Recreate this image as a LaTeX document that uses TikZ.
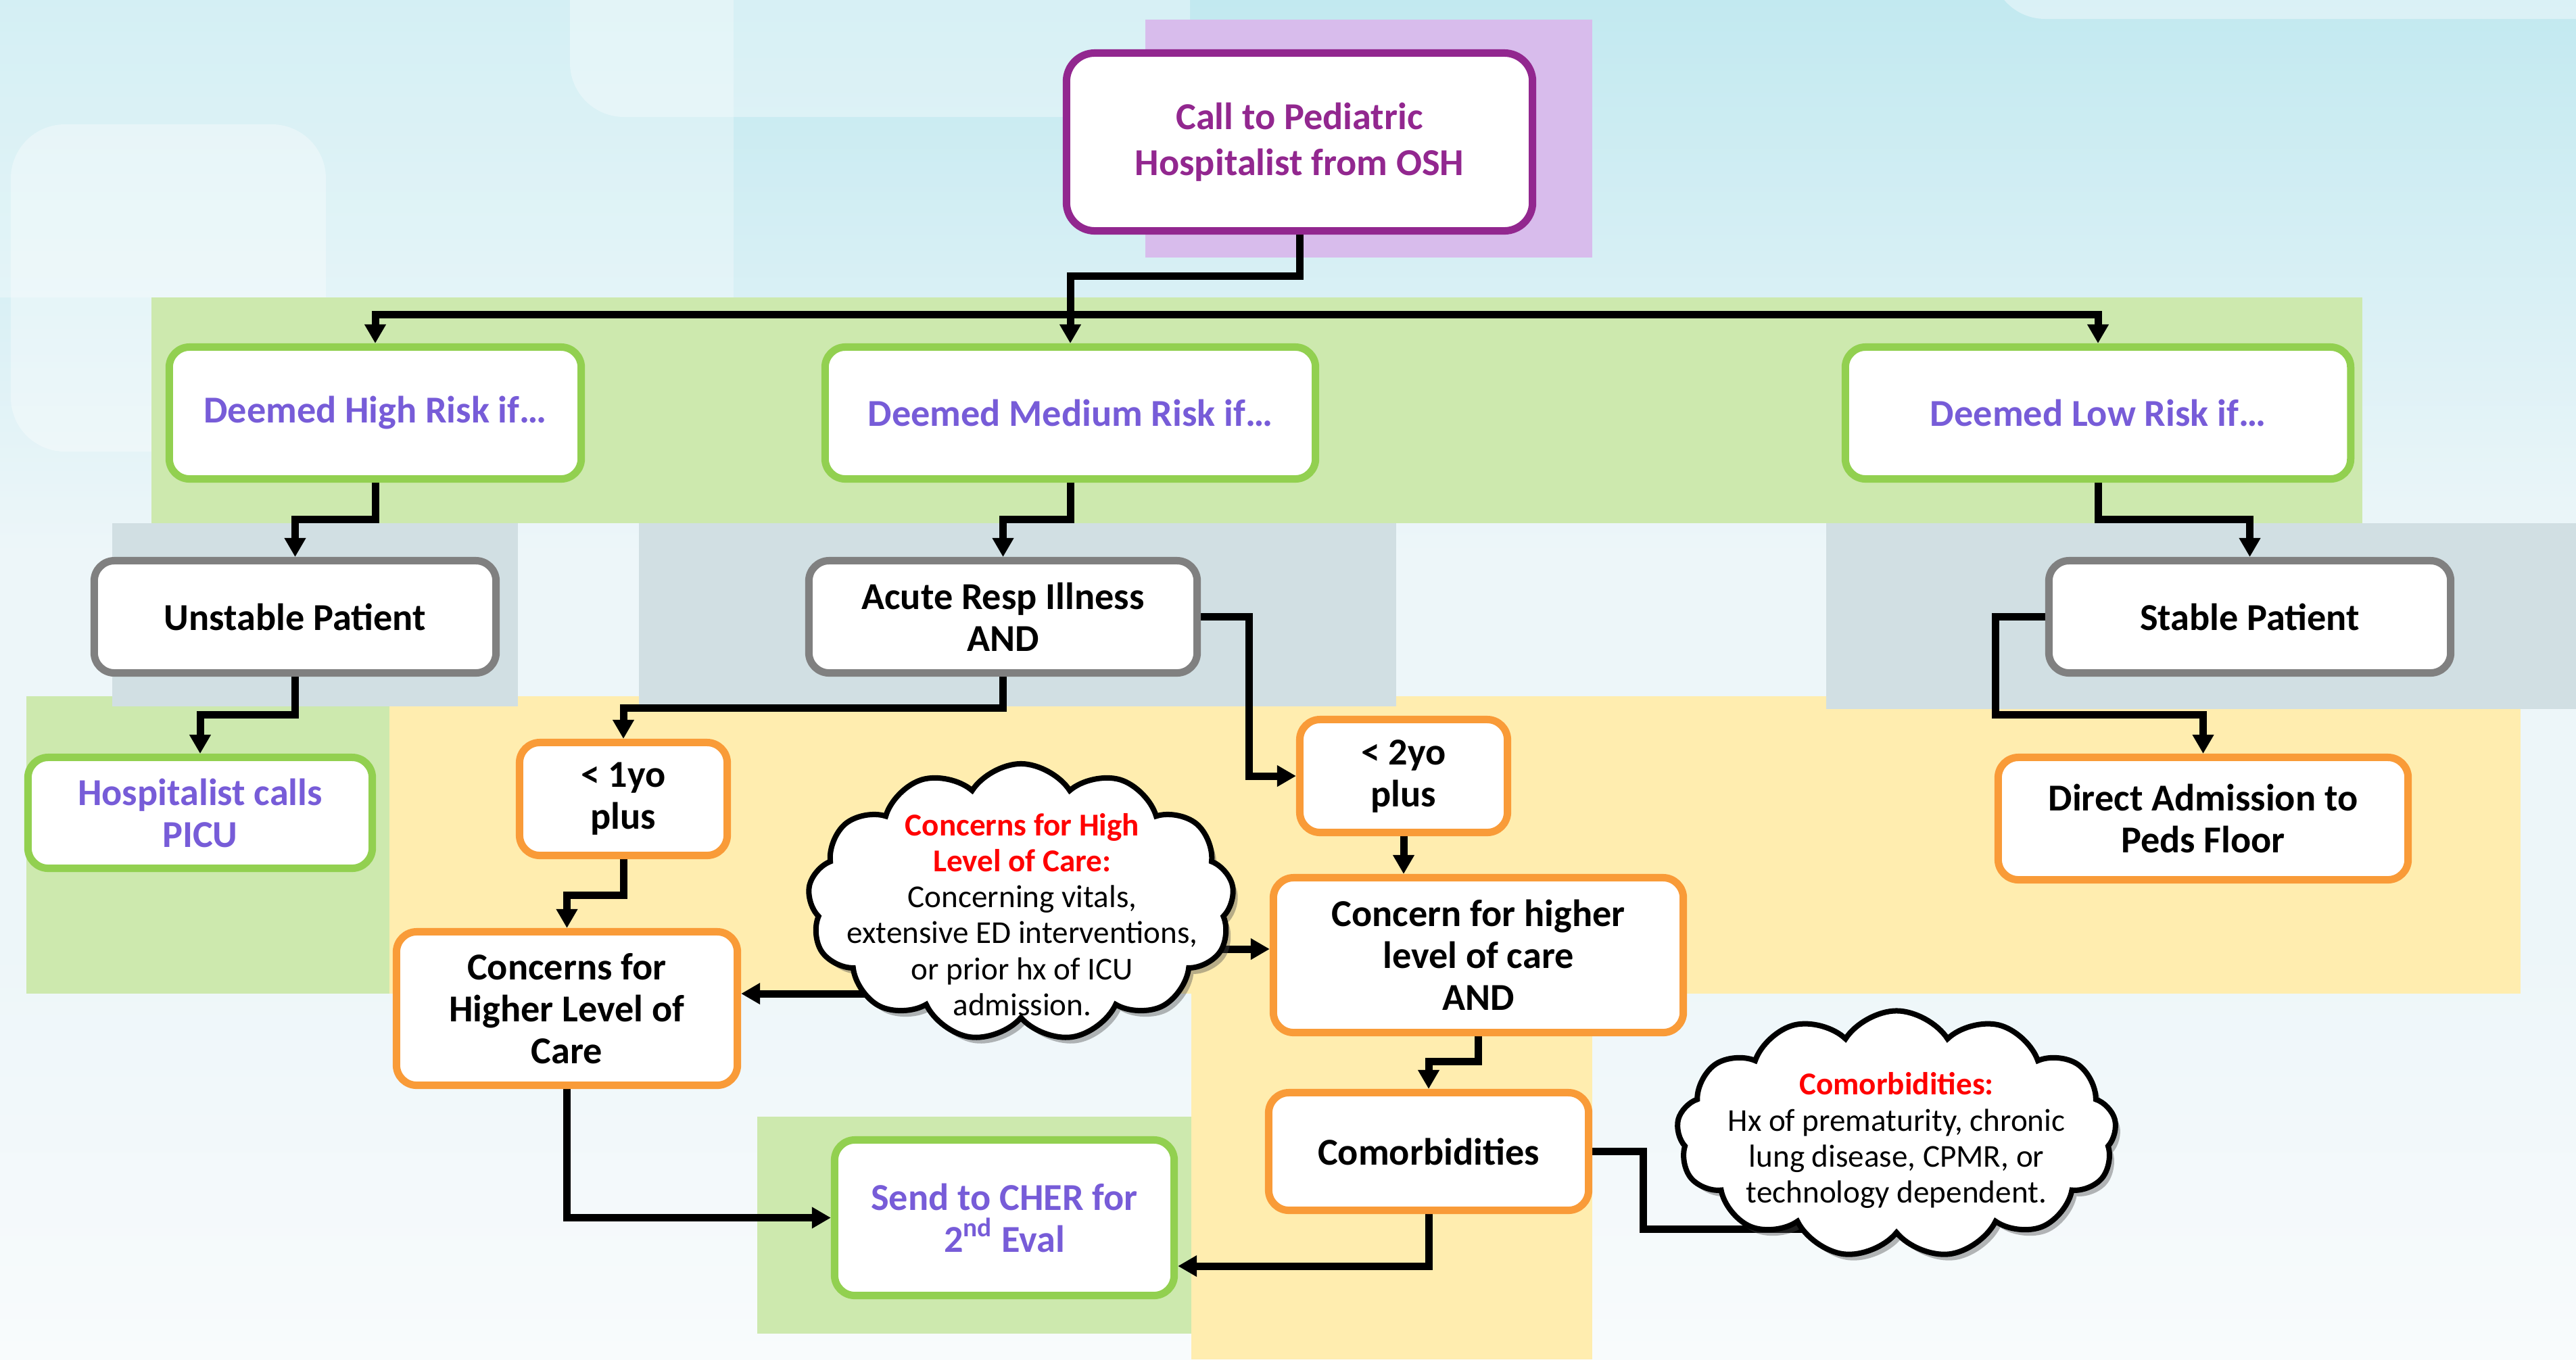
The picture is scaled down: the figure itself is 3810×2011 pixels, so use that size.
\documentclass[tikz,border=0pt]{standalone}
\usepackage{fontspec}
\setmainfont{Carlito}
\usetikzlibrary{arrows.meta,shapes.symbols,shadows}
\definecolor{cpurple}{HTML}{92278F}
\definecolor{bpurple}{HTML}{D8BCEC}
\definecolor{bgreen}{HTML}{CDE9AE}
\definecolor{lgreen}{HTML}{92D050}
\definecolor{bgray}{HTML}{D1DFE3}
\definecolor{byellow}{HTML}{FFEDAF}
\definecolor{corange}{HTML}{F99B38}
\definecolor{cgray}{HTML}{808080}
\definecolor{ptext}{HTML}{775CD8}
\definecolor{cred}{HTML}{FF0000}
\definecolor{bgtop}{HTML}{C2E9F0}
\definecolor{bglight}{HTML}{EDF6F9}
\definecolor{bgbot}{HTML}{F8FBFC}
\newcommand\redtitle[1]{\textcolor{cred}{\bfseries #1}}
\pgfdeclarelayer{back}
\pgfdeclarelayer{lines}
\pgfsetlayers{back,lines,main}
\begin{document}
\begin{tikzpicture}[x=0.01cm,y=-0.01cm,
  box/.style={draw, line width=0.11cm, fill=white, rounded corners=0.3cm, align=center,
    font=\bfseries\fontsize{16}{17.6}\selectfont, inner sep=0pt},
  gbox/.style={box, draw=lgreen, text=ptext},
  obox/.style={box, draw=corange, text=black},
  graybox/.style={box, draw=cgray, text=black},
  conn/.style={line width=0.11cm, black},
  arr/.style={conn, -{Triangle[length=0.28cm,width=0.3cm]}},
  cloudbox/.style={cloud, cloud puffs=13, cloud puff arc=115, cloud ignores aspect, draw=black,
    line width=0.08cm, fill=white, inner sep=0pt,
    drop shadow={shadow xshift=0.07cm, shadow yshift=-0.09cm, opacity=0.4, fill=black!70}},
  cloudtext/.style={align=center, font=\fontsize{13.4}{15.1}\selectfont, inner sep=0pt}
]
\useasboundingbox (0,0) rectangle (3810,2011);
\begin{pgfonlayer}{back}
  % page background
  \shade[top color=bgtop, bottom color=bglight] (0,0) rectangle (3810,820);
  \fill[bglight] (0,819) rectangle (3810,1400);
  \shade[top color=bglight, bottom color=bgbot] (0,1399) rectangle (3810,2011);
  \fill[white, opacity=0.3] (0,0) rectangle (1085,440);
  \fill[white, opacity=0.35, rounded corners=0.8cm] (843,-80) rectangle (1760,173);
  \fill[white, opacity=0.35, rounded corners=0.8cm] (16,184) rectangle (482,668);
  \fill[white, opacity=0.4, rounded corners=0.8cm] (2945,-80) rectangle (3900,28);
  % coloured bands
  \fill[byellow] (576,1030) rectangle (3728,1470);
  \fill[bgreen] (39,1030) rectangle (576,1470);
  \fill[bgray] (166,774) rectangle (766,1045);
  \fill[bgray] (945,774) rectangle (2065,1045);
  \fill[bgray] (2701,774) rectangle (3810,1049);
  \fill[bgreen] (224,440) rectangle (3494,774);
  \fill[bpurple] (1694,29) rectangle (2355,381);
  \fill[byellow] (1762,1470) rectangle (2355,2011);
  \fill[bgreen] (1120,1652) rectangle (1762,1973);
\end{pgfonlayer}

% nodes
\node[box, draw=cpurple, text=cpurple, rounded corners=0.42cm, minimum width=6.89cm, minimum height=2.63cm,
  font=\bfseries\fontsize{16}{19.4}\selectfont] (call) at (1922,210) {Call to Pediatric\\Hospitalist from OSH};
\node[gbox, minimum width=6.09cm, minimum height=1.95cm] (high) at (555,611) {Deemed High Risk if…};
\node[gbox, minimum width=7.25cm, minimum height=1.95cm] (med) at (1583,611) {Deemed Medium Risk if…};
\node[gbox, minimum width=7.47cm, minimum height=1.95cm] (low) at (3103,611) {Deemed Low Risk if…};
\node[graybox, minimum width=5.94cm, minimum height=1.66cm] (unstable) at (436.5,912.5) {Unstable Patient};
\node[graybox, minimum width=5.74cm, minimum height=1.66cm] (acute) at (1483.5,912.5) {Acute Resp Illness\\AND};
\node[graybox, minimum width=5.94cm, minimum height=1.66cm] (stable) at (3327.5,912.5) {Stable Patient};
\node[gbox, minimum width=5.09cm, minimum height=1.64cm] (hosp) at (296,1202.5) {Hospitalist calls\\PICU};
\node[obox, minimum width=3.07cm, minimum height=1.67cm] (lt1) at (922,1182) {< 1yo\\plus};
\node[obox, minimum width=3.07cm, minimum height=1.67cm] (lt2) at (2076,1148) {< 2yo\\plus};
\node[obox, minimum width=6.06cm, minimum height=1.81cm] (direct) at (3258.5,1211) {Direct Admission to\\Peds Floor};
\node[obox, minimum width=5.04cm, minimum height=2.27cm] (conc) at (838.5,1492) {Concerns for\\Higher Level of\\Care};
\node[obox, minimum width=6.06cm, minimum height=2.29cm] (conch) at (2186.5,1413) {Concern for higher\\level of care\\AND};
\node[obox, minimum width=4.73cm, minimum height=1.74cm] (comor) at (2113,1703.5) {Comorbidities};
\node[gbox, minimum width=5.02cm, minimum height=2.30cm] (send) at (1485.5,1801.5) {Send to CHER for\\2\textsuperscript{nd} Eval};

\node[cloudbox, minimum width=6.3cm, minimum height=4.1cm] (cloudA) at (1510,1335) {};
\node[cloudtext] (cloudAt) at (1512,1353) {\redtitle{Concerns for High}\\\redtitle{Level of Care:}\\Concerning vitals,\\extensive ED interventions,\\or prior hx of ICU\\admission.};
\node[cloudbox, minimum width=6.5cm, minimum height=3.65cm] (cloudB) at (2805,1678) {};
\node[cloudtext] (cloudBt) at (2805,1687) {\redtitle{Comorbidities:}\\Hx of prematurity, chronic\\lung disease, CPMR, or\\technology dependent.};

\coordinate (bus) at (3103,465);
\coordinate (yA) at (0,1470);
\coordinate (yB) at (0,1404);
\coordinate (yC) at (0,1873);
\coordinate (yD) at (2700,1818);

\begin{pgfonlayer}{lines}
  \draw[arr] (call.south) -- ++(0,61) -| (med.north);
  \draw[conn, {Triangle[length=0.28cm,width=0.3cm]}-{Triangle[length=0.28cm,width=0.3cm]}] (high.north) |- (bus) -- (low.north);
  \draw[arr] (high.south) -- ++(0,54) -| (unstable.north);
  \draw[arr] (med.south) -- ++(0,54) -| (acute.north);
  \draw[arr] (low.south) -- ++(0,54) -| (stable.north);
  \draw[arr] (unstable.south) -- ++(0,56) -| (hosp.north);
  \draw[arr] (acute.south) -- ++(0,46) -| (lt1.north);
  \draw[arr] (acute.east) -- ++(71,0) |- (lt2.west);
  \draw[arr] (stable.west) -- ++(-73,0) -- ++(0,144.5) -| (direct.north);
  \draw[arr] (lt1.south) -- ++(0,53) -| (conc.north);
  \draw[arr] (lt2.south) -- (lt2.south |- conch.north);
  \draw[arr] (cloudA.center |- yA) -- (conc.east |- yA);
  \draw[arr] (cloudA.center |- yB) -- (conch.west |- yB);
  \draw[arr] (conch.south) -- ++(0,37) -| (comor.north);
  \draw[arr] (conc.south) |- (send.west);
  \draw[arr] (comor.south) -- (comor.south |- yC) -- (send.east |- yC);
  \draw[conn] (comor.east) -- ++(75,0) |- (yD);
\end{pgfonlayer}
\end{tikzpicture}
\end{document}
